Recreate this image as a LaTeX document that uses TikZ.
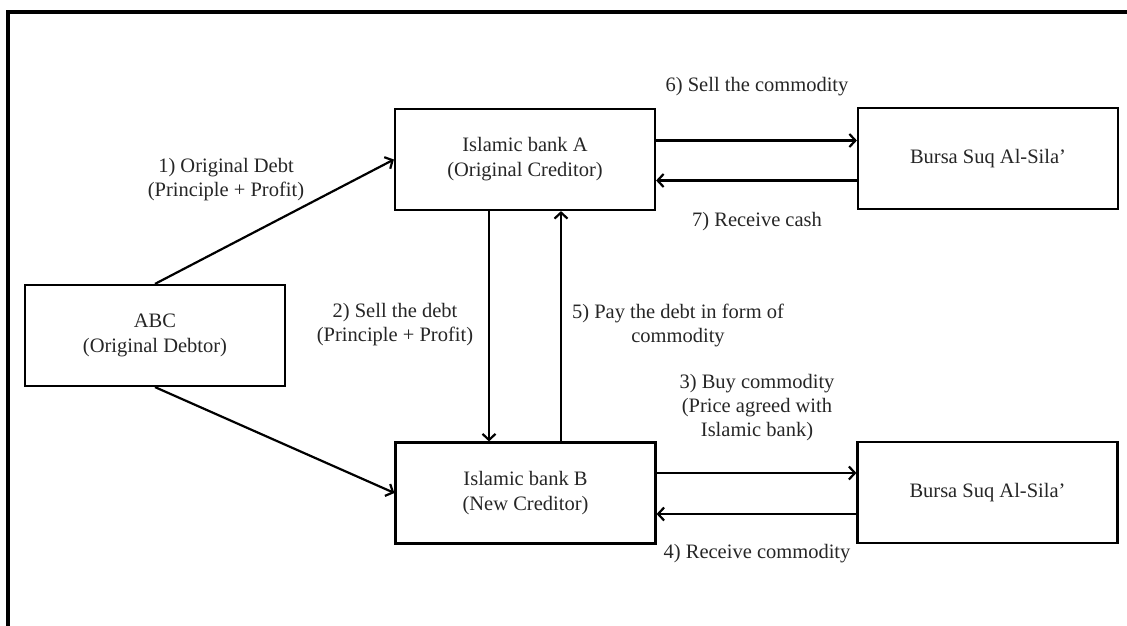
\documentclass[tikz,border=0pt]{standalone}
\usepackage{fontspec}
\setmainfont{Liberation Serif}
\usetikzlibrary{arrows.meta}
\begin{document}
\begin{tikzpicture}[x=1pt,y=-1pt,
  box/.style={draw=black, line width=2.2pt, minimum width=260pt, minimum height=101pt,
    align=center, inner sep=0pt, text=black!85,
    font=\fontsize{20.5}{25}\selectfont},
  lbl/.style={align=center, inner sep=0pt, text=black!85,
    font=\fontsize{20.5}{24}\selectfont},
  conn/.style={draw=black, line width=2.2pt,
    -{Straight Barb[length=6pt,width=13pt,line width=2.2pt]}},
  frame/.style={draw=black, line width=4pt}]
\useasboundingbox (0,0) rectangle (1127,626);
\draw[frame] (8,626) -- (8,12) -- (1127,12);

\node[box] (abc) at (155,335.5) {ABC\\(Original Debtor)};
\node[box] (A) at (525,159.5) {Islamic bank A\\(Original Creditor)};
\node[box] (B) at (525.5,493) {Islamic bank B\\(New Creditor)};
\node[box] (SA) at (988,158.5) {Bursa Suq Al-Sila'};
\node[box] (SB) at (987.5,492.5) {Bursa Suq Al-Sila'};

\draw[conn] (abc.north) -- (A.west);
\draw[conn] (abc.south) -- (B.west);
\draw[conn] ([xshift=-36pt]A.south) -- ([xshift=-36.5pt]B.north);
\draw[conn] ([xshift=35.5pt]B.north) -- ([xshift=36pt]A.south);
\draw[conn] ([yshift=19pt]A.east) -- ([yshift=18pt]SA.west);
\draw[conn] ([yshift=-22pt]SA.west) -- ([yshift=-21pt]A.east);
\draw[conn] ([yshift=20pt]B.east) -- ([yshift=19.5pt]SB.west);
\draw[conn] ([yshift=-21.5pt]SB.west) -- ([yshift=-21pt]B.east);

\node[lbl] (l1) at (226,180) {1) Original Debt\\(Principle + Profit)};
\node[lbl] (l2) at (395,325) {2) Sell the debt\\(Principle + Profit)};
\node[lbl] (l5) at (678,325) {5) Pay the debt in form of\\commodity};
\node[lbl] (l3) at (757,408) {3) Buy commodity\\(Price agreed with\\Islamic bank)};
\node[lbl] (l4) at (757,554) {4) Receive commodity};
\node[lbl] (l6) at (757,87) {6) Sell the commodity};
\node[lbl] (l7) at (757,222) {7) Receive cash};
\end{tikzpicture}
\end{document}
